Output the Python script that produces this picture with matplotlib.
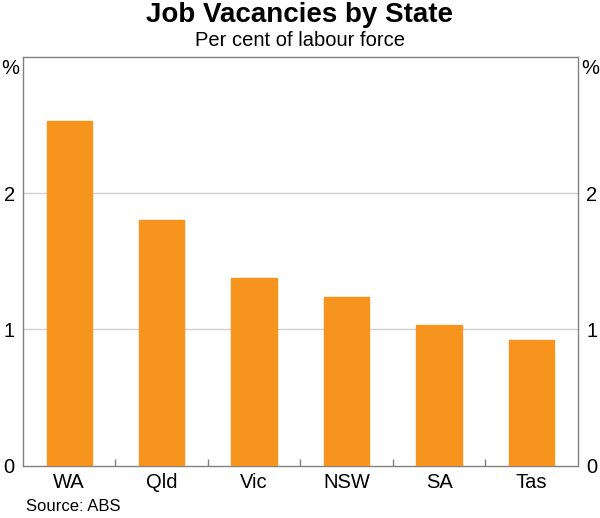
import matplotlib
matplotlib.use('Agg')
import matplotlib.pyplot as plt
import numpy as np

# Data
states = ['WA', 'Qld', 'Vic', 'NSW', 'SA', 'Tas']
vacancies = [2.53, 1.80, 1.38, 1.24, 1.03, 0.92]
y_ticks = [0, 1, 2]

plt.rcParams['font.family'] = ['Liberation Sans', 'DejaVu Sans']

fig = plt.figure(figsize=(6, 5.18), dpi=100)
ax = fig.add_axes([0.0383, 0.101, 0.9247, 0.789])

x = np.arange(len(states))
ax.bar(x, vacancies, width=0.49, color='#F7941D', edgecolor='#F7941D', zorder=3)

ax.set_xlim(-0.5, len(states) - 0.5)
ax.set_ylim(0, 3)

# gridlines
for v in y_ticks[1:]:
    ax.axhline(v, color='#d0d0d0', linewidth=1, zorder=1)

for s in ax.spines.values():
    s.set_color('#808080')
    s.set_linewidth(1)

# category separators as inward ticks
ax.set_xticks(np.arange(len(states) - 1) + 0.5)
ax.set_xticklabels([])
ax.tick_params(axis='x', direction='in', length=5, color='#808080', width=1)
ax.set_xticks(x, minor=True)
ax.set_xticklabels(states, minor=True, fontsize=14.5)
ax.tick_params(axis='x', which='minor', length=0, pad=5)

ax.set_yticks(y_ticks)
ax.set_yticklabels([str(t) for t in y_ticks], fontsize=14.5)
ax.tick_params(axis='y', length=0, pad=6, labelleft=True, labelright=True)

# unit labels
fig.text(0.017, 0.868, '%', fontsize=14.5, ha='center', va='center')
fig.text(0.983, 0.868, '%', fontsize=14.5, ha='center', va='center')

fig.text(0.5, 0.971, 'Job Vacancies by State', fontsize=20, fontweight='bold',
         ha='center', va='center')
fig.text(0.5, 0.921, 'Per cent of labour force', fontsize=14.5,
         ha='center', va='center')
fig.text(0.043, 0.022, 'Source: ABS', fontsize=12, ha='left', va='center')

fig.savefig('out.png', dpi=100)
